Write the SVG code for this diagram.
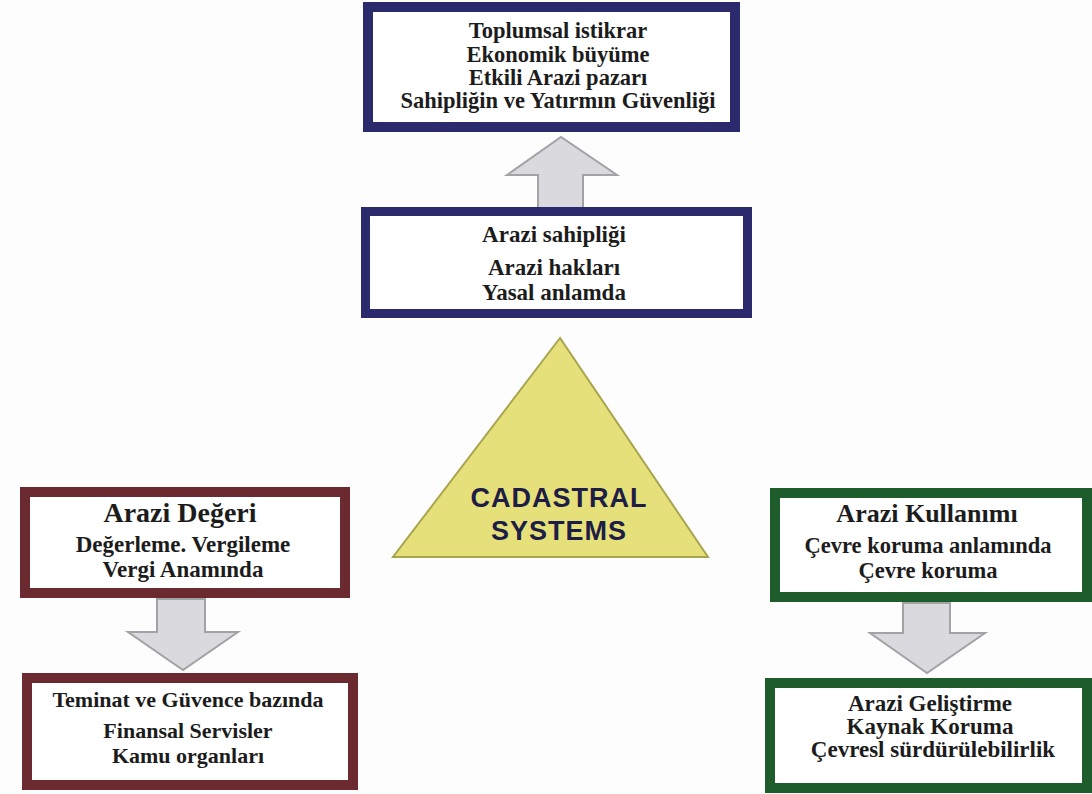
<svg xmlns="http://www.w3.org/2000/svg" width="1092" height="794" viewBox="0 0 1092 794">
<style>
.box{fill:#ffffff}
.navy{stroke:#2b2a6c}
.maroon{stroke:#6a2a2f}
.green{stroke:#1f5c2c}
.t{font-family:"Liberation Serif","Times New Roman",serif;font-weight:bold;fill:#1c1c1c;text-anchor:middle}
.arrow{fill:#dadade;stroke:#a3a3a6;stroke-width:2;stroke-linejoin:miter}
.cad{font-family:"Liberation Sans",Arial,sans-serif;font-weight:bold;font-size:27px;letter-spacing:1px;fill:#1d1d45;text-anchor:middle}
</style>
<rect width="1092" height="794" fill="#fdfdfd"/>
<g id="connectors">
<polygon class="arrow" points="538,208 538,175 507,175 561,137 617,175 583,175 583,208"/>
<polygon class="arrow" points="157,599 157,632 128,632 183,670 238,632 205,632 205,599"/>
<polygon class="arrow" points="903,603 903,633 870,633 927,673 985,633 950,633 950,603"/>
</g>
<g id="n-top">
<rect class="box navy" x="368" y="7" width="367" height="120" stroke-width="10"/>
<text class="t" x="558" y="38" font-size="22.5">Toplumsal istikrar</text>
<text class="t" x="558" y="62" font-size="22.5">Ekonomik büyüme</text>
<text class="t" x="558" y="85" font-size="22.5">Etkili Arazi pazarı</text>
<text class="t" x="558" y="108" font-size="22.5">Sahipliğin ve Yatırmın Güvenliği</text>
</g>
<g id="n-ownership">
<rect class="box navy" x="365.5" y="211.5" width="382" height="102" stroke-width="9"/>
<text class="t" x="554" y="242" font-size="23">Arazi sahipliği</text>
<text class="t" x="554" y="275" font-size="23">Arazi hakları</text>
<text class="t" x="554" y="300" font-size="23">Yasal anlamda</text>
</g>
<g id="n-cadastral">
<polygon points="560,338 393,557 708,557" fill="#e6e07a" stroke="#a9a54e" stroke-width="2"/>
<text class="cad" x="559" y="507">CADASTRAL</text>
<text class="cad" x="559" y="540">SYSTEMS</text>
</g>
<g id="n-value">
<rect class="box maroon" x="25" y="492" width="320" height="101" stroke-width="10"/>
<text class="t" x="180" y="522" font-size="28">Arazi Değeri</text>
<text class="t" x="183" y="552" font-size="23">Değerleme. Vergileme</text>
<text class="t" x="183" y="577" font-size="23">Vergi Anamında</text>
</g>
<g id="n-finance">
<rect class="box maroon" x="27" y="678" width="326" height="107" stroke-width="10"/>
<text class="t" x="188" y="707" font-size="22">Teminat ve Güvence bazında</text>
<text class="t" x="188" y="738" font-size="22">Finansal Servisler</text>
<text class="t" x="188" y="763" font-size="22">Kamu organları</text>
</g>
<g id="n-use">
<rect class="box green" x="775" y="493" width="312" height="104" stroke-width="10"/>
<text class="t" x="927" y="522" font-size="26">Arazi Kullanımı</text>
<text class="t" x="928" y="553" font-size="22.5">Çevre koruma anlamında</text>
<text class="t" x="928" y="578" font-size="22.5">Çevre koruma</text>
</g>
<g id="n-development">
<rect class="box green" x="770" y="683" width="317" height="105" stroke-width="10"/>
<text class="t" x="930" y="711" font-size="23">Arazi Geliştirme</text>
<text class="t" x="930" y="734" font-size="23">Kaynak Koruma</text>
<text class="t" x="933" y="757" font-size="23">Çevresl sürdürülebilirlik</text>
</g>
</svg>
